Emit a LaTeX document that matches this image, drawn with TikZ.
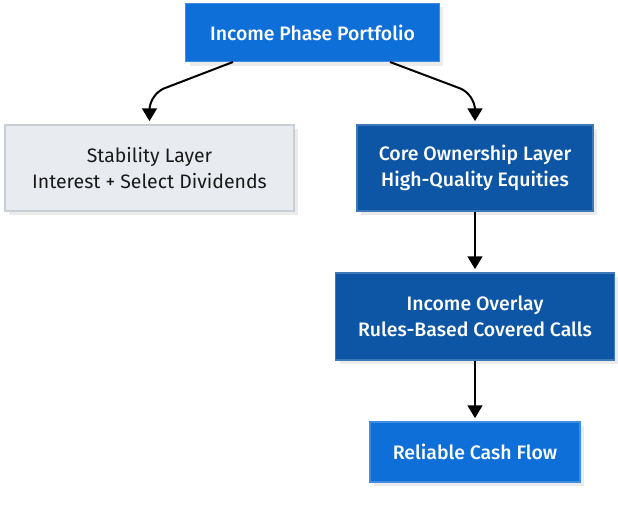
\documentclass[tikz,border=0pt]{standalone}
\usepackage{fontspec}
\setmainfont{Fira Sans}
\newfontfamily\mediumfont{Fira Sans Medium}
\usetikzlibrary{arrows.meta,shadows}
\definecolor{brightblue}{HTML}{0F6FD9}
\definecolor{deepblue}{HTML}{0D56A6}
\definecolor{paleblue}{HTML}{E8ECF0}
\definecolor{paleedge}{HTML}{C8CFD6}
\tikzset{
  box/.style={draw, line width=0.8pt, align=center, inner sep=0pt,
    font=\fontsize{14.6}{19.5}\selectfont,
    drop shadow={shadow xshift=3pt, shadow yshift=-3pt, fill=black!8, opacity=1}},
  mainbox/.style={box, fill=brightblue, draw=brightblue!80!white, text=white, font=\mediumfont\fontsize{14.6}{19.5}\selectfont},
  layerbox/.style={box, fill=deepblue, draw=deepblue!80!white, text=white, font=\mediumfont\fontsize{14.6}{19.5}\selectfont},
  softbox/.style={box, fill=paleblue, draw=paleedge, text=black!90},
  flow/.style={-{Triangle[length=9.5pt,width=11pt]}, line width=1.5pt, rounded corners=12pt}
}
\begin{document}
\begin{tikzpicture}[x=0.75pt, y=-0.75pt]
    \useasboundingbox (0,0) rectangle (618,524);
    % Blöcke
    \node[mainbox, minimum width=190pt, minimum height=44pt] (portfolio) at (312.5,32.5) {Income Phase Portfolio};
    \node[softbox, minimum width=216.75pt, minimum height=64.5pt] (stability) at (149.5,168) {Stability Layer\\Interest + Select Dividends};
    \node[layerbox, minimum width=177pt, minimum height=64.5pt] (core) at (475,168) {Core Ownership Layer\\High-Quality Equities};
    \node[layerbox, minimum width=209.25pt, minimum height=65.25pt] (overlay) at (475,316.5) {Income Overlay\\Rules-Based Covered Calls};
    \node[mainbox, minimum width=157.5pt, minimum height=45pt] (cash) at (475,452) {Reliable Cash Flow};
    % Verbindungen
    \coordinate (left-out) at (233,62);
    \coordinate (right-out) at (390,62);
    \draw[flow] (left-out) -- (149.5,94) -- ([yshift=2.5pt]stability.north);
    \draw[flow] (right-out) -- (475,94) -- ([yshift=2.5pt]core.north);
    \draw[flow] (core.south) -- ([yshift=2.5pt]overlay.north);
    \draw[flow] (overlay.south) -- ([yshift=2.5pt]cash.north);
\end{tikzpicture}
\end{document}
